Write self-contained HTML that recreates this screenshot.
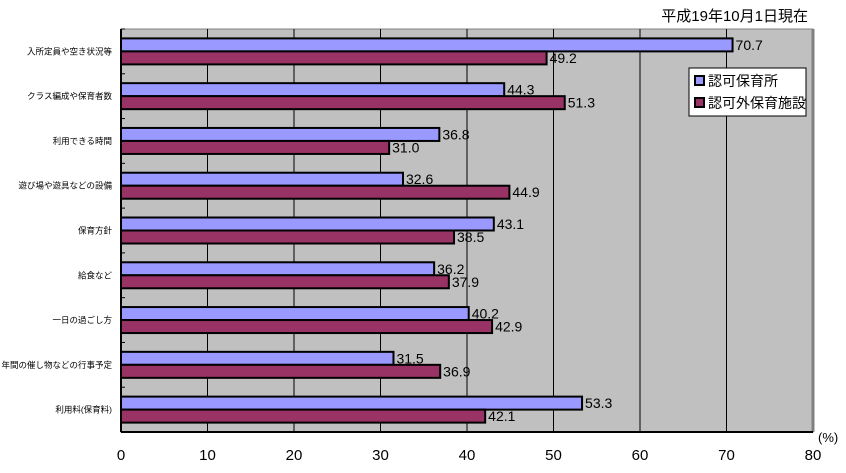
<!DOCTYPE html>
<html><head><meta charset="utf-8"><style>
body{margin:0;background:#fff;}
svg text{font-family:"Liberation Sans","Noto Sans CJK JP",sans-serif;}
</style></head><body>
<svg width="846" height="468">
<text x="808" y="21" font-size="15" text-anchor="end">平成19年10月1日現在</text>
<g id="plot"></g>
<g id="g"></g>
<g>
<rect x="689" y="68" width="117" height="48" fill="#fff" stroke="#000"/>
<rect x="695" y="76" width="9" height="9" fill="#9999ff" stroke="#000" stroke-width="2"/>
<text x="708" y="86" font-size="14">認可保育所</text>
<rect x="695" y="98" width="9" height="9" fill="#993366" stroke="#000" stroke-width="2"/>
<text x="708" y="108" font-size="14">認可外保育施設</text>
</g>
<text x="818" y="442" font-size="13">(%)</text>
</svg>
<script>
const categories=["入所定員や空き状況等","クラス編成や保育者数","利用できる時間","遊び場や遊具などの設備","保育方針","給食など","一日の過ごし方","年間の催し物などの行事予定","利用料(保育料)"];
const licensed=[70.7,44.3,36.8,32.6,43.1,36.2,40.2,31.5,53.3];
const unlicensed=[49.2,51.3,31.0,44.9,38.5,37.9,42.9,36.9,42.1];
const ticks=[0,10,20,30,40,50,60,70,80];
const NS="http://www.w3.org/2000/svg";
const L=121,R=813,T=29,B=432;
const x=v=>L+(R-L)*v/80;
const band=(B-T)/categories.length;
function mk(p,tag,a){const e=document.createElementNS(NS,tag);for(const k in a)e.setAttribute(k,a[k]);p.appendChild(e);return e;}
const plot=document.getElementById('plot'),g=document.getElementById('g');
let bg=mk(plot,'rect',{x:L,y:T,width:R-L,height:B-T,fill:'#c0c0c0',stroke:'#808080','stroke-width':1});


let rb=mk(plot,'line',{x1:R,x2:R,y1:T,y2:B,stroke:'#808080','stroke-width':3});


ticks.forEach(t=>{
  if(t>0&&t<80){let l=mk(plot,'line',{x1:x(t),x2:x(t),y1:T,y2:B,stroke:'#000','stroke-width':1});
  
  }
  let tx=mk(plot,'text',{x:x(t),y:460,'font-size':15,'text-anchor':'middle'});tx.textContent=t;
  
  
});
let ax=mk(plot,'line',{x1:L,x2:L,y1:T,y2:B,stroke:'#000','stroke-width':2});


let bx=mk(plot,'line',{x1:L,x2:R,y1:B,y2:B,stroke:'#000','stroke-width':2});


for(let i=0;i<=categories.length;i++){let tk=mk(plot,'line',{x1:L,x2:L+4,y1:T+i*band,y2:T+i*band,stroke:'#000'});

}
const bh=13;
categories.forEach((c,i)=>{
  const cy=T+band*i+band/2;
  let lb=mk(g,'text',{x:112,y:cy+3,'font-size':8.5,'text-anchor':'end'});lb.textContent=c;
  
  
  [[licensed[i],'#9999ff',cy-bh,'licensed'],[unlicensed[i],'#993366',cy,'unlicensed']].forEach(([v,col,y,n])=>{
    let r=mk(g,'rect',{x:L,y:y,width:x(v)-L,height:bh,fill:col,stroke:'#000','stroke-width':2});
    
    
    let t=mk(g,'text',{x:x(v)+3,y:y+bh/2+5,'font-size':14});t.textContent=v.toFixed(1);
    
    
  });
});
</script>
</body></html>
